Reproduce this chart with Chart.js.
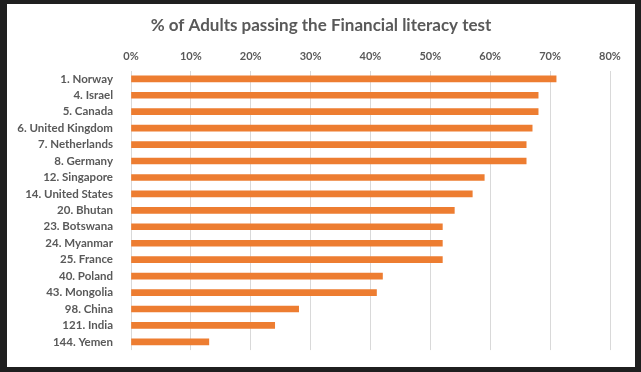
<!DOCTYPE html>
<html>
<head>
<meta charset="utf-8">
<script src="https://cdn.jsdelivr.net/npm/chart.js@4"></script>
<style>
  html, body { margin: 0; padding: 0; background: #1f1f1f; }
  #frame { position: absolute; left: 7px; top: 4px; width: 628px; height: 363px; background: #ffffff; }
</style>
</head>
<body>
<div id="frame"><canvas id="chart" width="628" height="363"></canvas></div>
<script>
const countries = [
  "1. Norway", "4. Israel", "5. Canada", "6. United Kingdom", "7. Netherlands",
  "8. Germany", "12. Singapore", "14. United States", "20. Bhutan", "23. Botswana",
  "24. Myanmar", "25. France", "40. Poland", "43. Mongolia", "98. China",
  "121. India", "144. Yemen"
];
const passing = [0.71, 0.68, 0.68, 0.67, 0.66, 0.66, 0.59, 0.57, 0.54, 0.52,
  0.52, 0.52, 0.42, 0.41, 0.28, 0.24, 0.13];

const grey = "#595959";
const fontFamily = "Lato, 'Liberation Sans', sans-serif";

const ctx = document.getElementById("chart").getContext("2d");
new Chart(ctx, {
  type: "bar",
  data: {
    labels: countries,
    datasets: [
      {
        label: "% of Adults passing",
        data: passing,
        backgroundColor: "#ed7d31",
        borderWidth: 0,
        barThickness: 6,
      },
    ],
  },
  options: {
    indexAxis: "y",
    responsive: false,
    animation: false,
    layout: { padding: { top: 0, right: 0, bottom: 12, left: 0 } },
    plugins: {
      legend: { display: false },
      tooltip: { enabled: false },
      title: {
        display: true,
        text: "% of Adults passing the Financial literacy test",
        color: grey,
        font: { family: fontFamily, size: 17, weight: "bold" },
        padding: { top: 11, bottom: 6 },
      },
    },
    scales: {
      x: {
        position: "top",
        min: 0,
        max: 0.8,
        border: { display: false },
        grid: { color: "#d9d9d9", lineWidth: 1, drawTicks: false },
        ticks: {
          stepSize: 0.1,
          color: grey,
          padding: 8,
          font: { family: fontFamily, size: 11, weight: "bold" },
          callback: (v) => Math.round(v * 100) + "%",
        },
      },
      y: {
        border: { display: false },
        grid: { display: false },
        afterFit: (scale) => { scale.width = 124; },
        ticks: {
          color: grey,
          padding: 10,
          autoSkip: false,
          font: { family: fontFamily, size: 11.5, weight: "bold" },
        },
      },
      // empty right-hand spacer so the title stays centred on the whole frame
      spacer: {
        type: "category",
        axis: "y",
        position: "right",
        labels: countries,
        border: { display: false },
        grid: { display: false },
        ticks: { display: false },
        afterFit: (scale) => { scale.width = 25; },
      },
    },
  },
});
</script>
</body>
</html>
